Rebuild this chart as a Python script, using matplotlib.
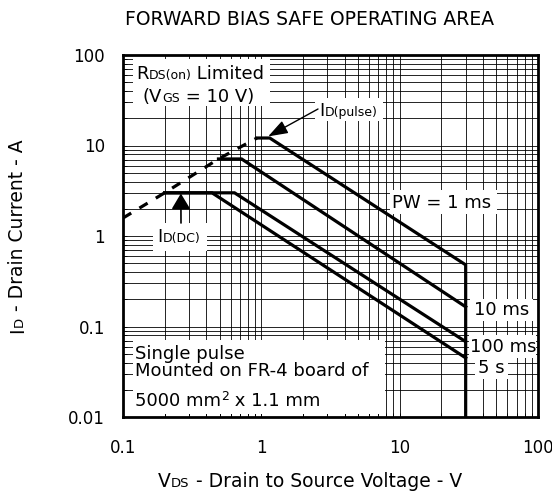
import matplotlib
matplotlib.use("Agg")
import matplotlib.pyplot as plt
from matplotlib.patches import Rectangle
from matplotlib.ticker import LogLocator, NullFormatter

# Safe operating area curves (V, A)
RDS_V = [0.1, 0.2, 0.49, 0.93]
RDS_I = [1.58, 3.0, 7.1, 12.1]
PULSE_1MS_V = [0.93, 1.15, 30, 30]
PULSE_1MS_I = [12.1, 12.1, 0.48, 0.01]
PULSE_10MS_V = [0.49, 0.72, 30]
PULSE_10MS_I = [7.1, 7.1, 0.165]
PULSE_100MS_V = [0.2, 0.64, 30]
PULSE_100MS_I = [3.0, 3.0, 0.068]
DC_5S_V = [0.2, 0.44, 30]
DC_5S_I = [3.0, 3.0, 0.045]

X_TICKS = [0.1, 1, 10, 100]
X_LABELS = ["0.1", "1", "10", "100"]
Y_TICKS = [0.01, 0.1, 1, 10, 100]
Y_LABELS = ["0.01", "0.1", "1", "10", "100"]

W, H = 552, 497
fig = plt.figure(figsize=(W / 100, H / 100), dpi=100)
ax = fig.add_axes([123 / W, 1 - 417 / H, (538 - 123) / W, (417 - 55) / H])

ax.set_xscale("log")
ax.set_yscale("log")
ax.set_xlim(0.1, 100)
ax.set_ylim(0.01, 100)
ax.set_xticks(X_TICKS, X_LABELS)
ax.set_yticks(Y_TICKS, Y_LABELS)
for axis in (ax.xaxis, ax.yaxis):
    axis.set_minor_locator(LogLocator(base=10, subs=range(2, 10)))
    axis.set_minor_formatter(NullFormatter())
ax.grid(which="both", color="black", lw=0.6)
ax.tick_params(which="both", direction="in", length=3, width=0.6, labelsize=12)
ax.tick_params(axis="x", pad=16)
ax.tick_params(axis="y", pad=13)
for sp in ax.spines.values():
    sp.set_linewidth(2)

lw = 2.3
ax.plot(RDS_V, RDS_I, color="black", lw=lw, ls=(0, (3, 3)), zorder=2)
for v, i in [(PULSE_1MS_V, PULSE_1MS_I), (PULSE_10MS_V, PULSE_10MS_I),
             (PULSE_100MS_V, PULSE_100MS_I), (DC_5S_V, DC_5S_I)]:
    ax.plot(v, i, color="black", lw=lw, solid_joinstyle="miter", zorder=2)


def px(x, y):
    # pixel position from top-left -> figure fraction
    return x / W, 1 - y / H


def box(x0, y0, x1, y1):
    fx, fy = px(x0, y1)
    ax.add_patch(Rectangle((fx, fy), (x1 - x0) / W, (y1 - y0) / H,
                           transform=fig.transFigure, fc="white", ec="none",
                           zorder=2.2, clip_on=False))


renderer = fig.canvas.get_renderer()


def rich(x, y, parts, ha="left", rotation=0):
    items = []
    for s, size, rise in parts:
        t = fig.text(0, 0, s, fontsize=size, va="baseline", ha="left",
                     rotation=rotation, rotation_mode="anchor")
        bb = t.get_window_extent(renderer)
        items.append((t, bb.height if rotation else bb.width, rise))
    total = sum(w for _, w, _ in items)
    if rotation:
        pos = y + total / 2
        for t, w, rise in items:
            t.set_position(px(x - rise, pos))
            pos -= w
    else:
        pos = x - total / 2 if ha == "center" else x
        for t, w, rise in items:
            t.set_position(px(pos, y - rise))
            pos += w


# white label boxes
box(133, 59, 270, 106)
box(315, 98, 383, 121)
box(153, 223, 207, 251)
box(390, 190, 497, 214)
box(470, 299, 533, 321)
box(469, 335, 536, 358)
box(475, 358, 508, 379)
box(133, 340, 385, 414)

big, small = 13, 9
rich(136, 79, [("R", big, 0), ("DS(on)", small, 0), (" Limited", big, 0)])
rich(143, 102, [("(V", big, 0), ("GS", small, 0), (" = 10 V)", big, 0)])
rich(319, 116, [("I", big, 0), ("D(pulse)", small, 0)])
rich(157, 242, [("I", big, 0), ("D(DC)", small, 0)])
rich(392, 208, [("PW = 1 ms", big, 0)])
rich(474, 315, [("10 ms", big, 0)])
rich(470, 352, [("100 ms", big, 0)])
rich(478, 373, [("5 s", big, 0)])
rich(135, 359, [("Single pulse", big, 0)])
rich(135, 376, [("Mounted on FR-4 board of", big, 0)])
rich(135, 406, [("5000 mm", big, 0), ("2", small, 6), (" x 1.1 mm", big, 0)])

# arrows to the limit curves
ax.annotate("", xy=(1.12, 12.6), xytext=(318, H - 109), textcoords="figure pixels",
            arrowprops=dict(arrowstyle="-|>,head_length=1.0,head_width=0.35",
                            mutation_scale=12, color="black", lw=1,
                            shrinkA=0, shrinkB=0), zorder=3)
ax.annotate("", xy=(0.262, 2.95), xytext=(181, H - 223), textcoords="figure pixels",
            arrowprops=dict(arrowstyle="-|>,head_length=0.8,head_width=0.48",
                            mutation_scale=12, color="black", lw=1.2,
                            shrinkA=0, shrinkB=0), zorder=3)

fig.text(310 / W, 1 - 25 / H, "FORWARD BIAS SAFE OPERATING AREA",
         fontsize=13.5, ha="center", va="baseline")
rich(310, 487, [("V", 13.5, 0), ("DS", 9.5, 0), (" - Drain to Source Voltage - V", 13.5, 0)],
     ha="center")
rich(23, 236, [("I", 13.5, 0), ("D", 9.5, 0), (" - Drain Current - A", 13.5, 0)],
     rotation=90)

fig.savefig("out.png", dpi=100)
